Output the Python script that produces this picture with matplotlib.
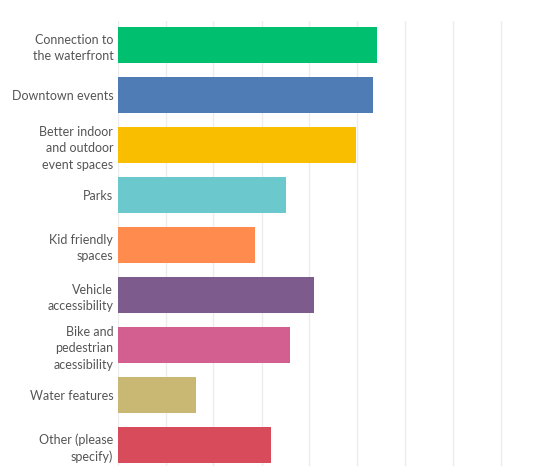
import matplotlib.pyplot as plt

# Survey answers (percent of respondents)
categories = [
    "Connection to\nthe waterfront",
    "Downtown events",
    "Better indoor\nand outdoor\nevent spaces",
    "Parks",
    "Kid friendly\nspaces",
    "Vehicle\naccessibility",
    "Bike and\npedestrian\nacessibility",
    "Water features",
    "Other (please\nspecify)",
]
values = [54.1, 53.3, 49.6, 35.0, 28.7, 40.9, 35.9, 16.4, 31.9]
colors = ["#00BF6F", "#507CB6", "#F9BE00", "#6BC8CD", "#FF8B4F",
          "#7D5B8C", "#D25F90", "#C8B874", "#D84B5B"]
grid_ticks = [0, 10, 20, 30, 40, 50, 60, 70, 80]

plt.rcParams['font.family'] = ['Lato', 'DejaVu Sans']

fig = plt.figure(figsize=(5.46, 4.66), dpi=100)
ax = fig.add_axes([117.5 / 546, 0, 1 - 117.5 / 546, 1 - 21 / 466])

ax.barh(range(len(values)), values, height=0.73, color=colors, zorder=2)

ax.set_xticks(grid_ticks)
ax.set_xticklabels([])
ax.set_xlim(0, (546 - 117.5) / 4.8)
ax.set_ylim(8.42, -0.48)
ax.grid(axis='x', color='#ececec', linewidth=1, zorder=0)
ax.tick_params(axis='both', length=0)
ax.set_yticks(range(len(categories)))
ax.set_yticklabels(categories, fontsize=9, color='#555555', linespacing=1.45)
ax.tick_params(axis='y', pad=3)
for s in ax.spines.values():
    s.set_visible(False)

fig.savefig('out.png', dpi=100)
